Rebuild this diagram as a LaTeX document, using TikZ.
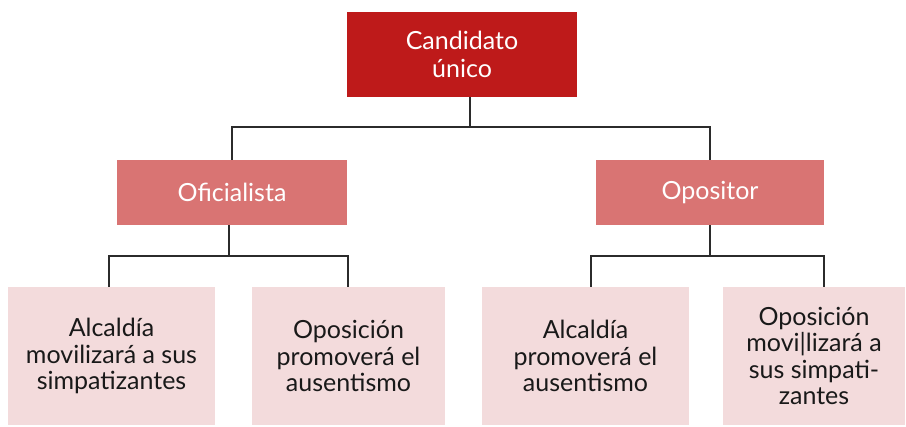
\documentclass[tikz,border=0pt]{standalone}
\usepackage{fontspec}
\setmainfont{Lato}
\definecolor{rojo}{HTML}{BE1A1A}
\definecolor{rosa}{HTML}{D97473}
\definecolor{palo}{HTML}{F3DBDC}
\definecolor{linea}{HTML}{2B2B2B}
\tikzset{
  cabeza/.style={fill=rojo, text=white, minimum width=230pt, minimum height=85pt, align=center, font=\fontsize{25}{27.5}\selectfont},
  rama/.style={fill=rosa, text=white, minimum height=65pt, align=center, font=\fontsize{25}{27.5}\selectfont},
  hoja/.style={fill=palo, text=black!90, minimum height=138pt, align=center, font=\fontsize{25}{26.5}\selectfont},
  enlace/.style={draw=linea, line width=1.3pt}
}
\begin{document}
\begin{tikzpicture}[x=1pt, y=-1pt]
  \useasboundingbox (0,0) rectangle (906,427);
  \node[cabeza] (top) at (462,54.5) {Candidato\\único};
  \node[rama, minimum width=230pt] (ofi) at (232,192.5) {Oficialista};
  \node[rama, minimum width=228pt] (opo) at (710,192.5) {Opositor};
  \node[hoja, minimum width=207pt] (b1) at (111.5,356) {Alcaldía\\movilizará a sus\\simpatizantes};
  \node[hoja, minimum width=193pt] (b2) at (348.5,356) {Oposición\\promoverá el\\ausentismo};
  \node[hoja, minimum width=207pt] (b3) at (585.5,356) {Alcaldía\\promoverá el\\ausentismo};
  \node[hoja, minimum width=182pt] (b4) at (814,356) {Oposición\\movi|lizará a\\sus simpati-\\zantes};
  % junctions
  \coordinate (tj) at (470,127);
  \coordinate (oj) at (229,256);
  \coordinate (pj) at (710,256);
  \coordinate (l1) at (109,256);
  \coordinate (l2) at (348,256);
  \coordinate (l3) at (591,256);
  \coordinate (l4) at (824,256);
  \draw[enlace] (tj) -- (tj |- top.south);
  \draw[enlace] (ofi.north) |- (tj) -| (opo.north);
  \draw[enlace] (oj) -- (oj |- ofi.south);
  \draw[enlace] (l1 |- b1.north) -- (l1) -- (l2) -- (l2 |- b2.north);
  \draw[enlace] (pj) -- (pj |- opo.south);
  \draw[enlace] (l3 |- b3.north) -- (l3) -- (l4) -- (l4 |- b4.north);
\end{tikzpicture}
\end{document}
